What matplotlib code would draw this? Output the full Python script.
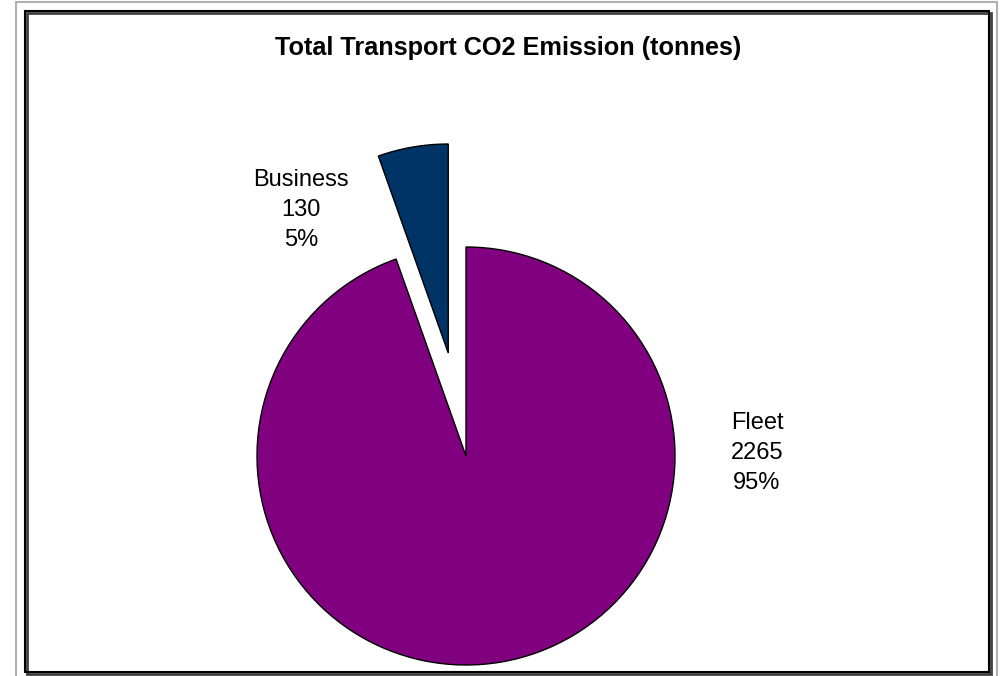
import matplotlib
matplotlib.use("Agg")
import matplotlib.pyplot as plt
from matplotlib.patches import Rectangle

plt.rcParams['font.family'] = ['Liberation Sans', 'DejaVu Sans']

title = "Total Transport CO2 Emission (tonnes)"
categories = ["Fleet", "Business"]
values = [2265, 130]
colors = ["#800080", "#003366"]
explode = [0.0, 0.5]

W, H = 1002, 676
fig = plt.figure(figsize=(W / 100, H / 100), dpi=100)
fig.patch.set_facecolor("white")

def px_rect(x0, y0, x1, y1, **kw):
    r = Rectangle((x0 / W, 1 - y1 / H), (x1 - x0) / W, (y1 - y0) / H,
                  transform=fig.transFigure, fill=False, **kw)
    fig.add_artist(r)

# outer grey frame and inner chart-area frame with shadow
px_rect(16, 1.5, 997, 690, edgecolor="#b0b0b0", linewidth=1.5)
px_rect(27, 13, 991, 674, edgecolor="#404040", linewidth=2.0)
px_rect(25, 11, 989, 672, edgecolor="black", linewidth=1.5)

ax = fig.add_axes([0, 0, 1, 1])
cx, cy, R = 466, 456, 209
total = sum(values)
wedges, _ = ax.pie(values, colors=colors, explode=explode, startangle=90,
                   counterclock=False, radius=1.0,
                   wedgeprops=dict(edgecolor="black", linewidth=1.0))
ax.set_xlim(-cx / R, (W - cx) / R)
ax.set_ylim((cy - H) / R, cy / R)
ax.set_aspect('equal', adjustable='box')
ax.axis('off')

def to_data(px, py):
    return (px - cx) / R, (cy - py) / R

label_pos = {"Fleet": (757, 453), "Business": (301, 210)}
for cat, val in zip(categories, values):
    pct = 100 * val / total
    x, y = to_data(*label_pos[cat])
    ax.text(x, y, f"{cat}\n{val}\n{pct:.0f}%", ha="center", va="center",
            fontsize=17, linespacing=1.47, color="black")

fig.text(508 / W, 1 - 48 / H, title, ha="center", va="center",
         fontsize=18.2, fontweight="bold")

fig.savefig("out.png", dpi=100)
